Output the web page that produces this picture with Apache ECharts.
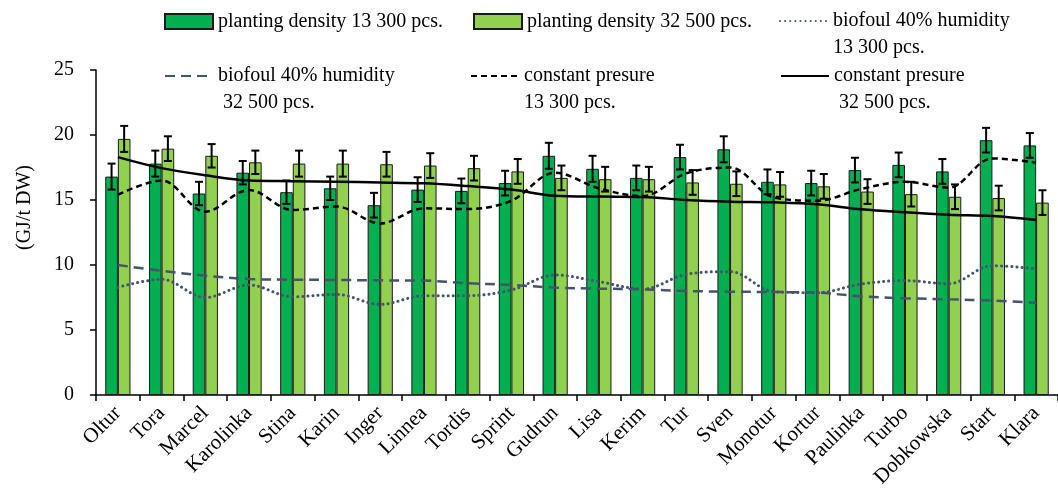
<!DOCTYPE html>
<html>
<head>
<meta charset="utf-8">
<script src="https://cdn.jsdelivr.net/npm/echarts@6/dist/echarts.min.js"></script>
<style>
  html, body { margin: 0; padding: 0; background: #fff; }
  #chart { width: 1058px; height: 494px; }
</style>
</head>
<body>
<div id="chart"></div>
<script>
// cultivars on x axis
const categories = ['Oltur', 'Tora', 'Marcel', 'Karolinka', 'Stina', 'Karin', 'Inger', 'Linnea', 'Tordis', 'Sprint',
  'Gudrun', 'Lisa', 'Kerim', 'Tur', 'Sven', 'Monotur', 'Kortur', 'Paulinka', 'Turbo', 'Dobkowska', 'Start', 'Klara']

// bars (GJ/t DW) and their error
const density13300 = [16.8, 17.8, 15.5, 17.1, 15.6, 15.9, 14.6, 15.8, 15.7, 16.3, 18.4, 17.4, 16.7, 18.3, 18.9, 16.4, 16.3, 17.3, 17.7, 17.2, 19.6, 19.2]
const density32500 = [19.7, 18.95, 18.4, 17.9, 17.8, 17.8, 17.75, 17.65, 17.45, 17.2, 16.7, 16.6, 16.6, 16.35, 16.25, 16.2, 16.05, 15.65, 15.45, 15.25, 15.15, 14.8]
const err13300 = [1.0, 1.0, 0.9, 0.9, 0.9, 0.9, 0.95, 0.95, 0.95, 0.95, 1.0, 1.0, 0.95, 0.95, 1.0, 0.95, 0.95, 0.95, 0.95, 0.95, 0.95, 0.95]
const err32500 = [1.0, 0.95, 0.9, 0.9, 1.0, 1.0, 0.95, 0.95, 0.95, 0.95, 0.95, 0.95, 0.95, 0.95, 0.95, 0.95, 0.95, 0.95, 0.95, 0.95, 0.95, 0.95]

// lines
const biofoul13300 = [8.28, 8.9, 7.5, 8.46, 7.56, 7.74, 6.97, 7.64, 7.64, 8.08, 9.23, 8.72, 8.15, 9.28, 9.49, 7.95, 7.87, 8.54, 8.8, 8.56, 9.95, 9.7]
const biofoul32500 = [10.0, 9.55, 9.18, 8.92, 8.87, 8.85, 8.82, 8.8, 8.6, 8.46, 8.26, 8.18, 8.13, 8.0, 7.95, 7.92, 7.87, 7.59, 7.44, 7.36, 7.26, 7.1]
const pressure13300 = [15.4, 16.5, 14.1, 15.77, 14.23, 14.5, 13.2, 14.36, 14.3, 14.95, 17.1, 15.9, 15.3, 17.05, 17.5, 15.2, 14.95, 15.85, 16.4, 15.95, 18.2, 17.87]
const pressure32500 = [18.3, 17.45, 16.9, 16.5, 16.45, 16.4, 16.35, 16.28, 16.07, 15.8, 15.33, 15.26, 15.23, 15.0, 14.87, 14.82, 14.67, 14.28, 14.05, 13.87, 13.77, 13.46]

// y ticks
const yMin = 0
const yMax = 25
const yStep = 5

const FONT = 'Liberation Serif'
const BAR_W = 12.6
const LH = 27

const names = [
  'planting density 13 300 pcs.',
  'planting density 32 500 pcs.',
  'biofoul 40% humidity 13 300 pcs.',
  'biofoul 40% humidity 32 500 pcs.',
  'constant presure 13 300 pcs.',
  'constant presure 32 500 pcs.'
]
// legend text; wrapped items get an empty first line so the icon sits on the first real line
const legendText = {
  [names[0]]: 'planting density 13 300 pcs.',
  [names[1]]: 'planting density 32 500 pcs.',
  [names[2]]: '\nbiofoul 40% humidity\n13 300 pcs.',
  [names[3]]: '\nbiofoul 40% humidity\n 32 500 pcs.',
  [names[4]]: '\nconstant presure\n13 300 pcs.',
  [names[5]]: '\nconstant presure\n 32 500 pcs.'
}

function makeLegend(name, left, iconY, isLine) {
  const lines = legendText[name].split('\n').length
  const leg = {
    data: [name],
    left: left,
    top: iconY - LH * lines / 2,
    padding: 0,
    itemWidth: 48,
    itemHeight: 15,
    selectedMode: false,
    formatter: n => legendText[n],
    textStyle: {
      fontFamily: FONT,
      fontSize: 20,
      color: '#000',
      lineHeight: LH
    }
  }
  if (isLine) {
    // hide the marker that line legends draw in the middle
    leg.itemStyle = { color: 'rgba(0,0,0,0)', borderWidth: 0 }
  } else {
    leg.icon = 'rect'
  }
  return leg
}

// error bars drawn with the axis scales, shifted half a bar to each side
function errorSeries(values, errs, side) {
  return {
    type: 'custom',
    z: 5,
    silent: true,
    data: values.map((v, i) => [i, v, errs[i]]),
    renderItem: (params, api) => {
      const i = api.value(0)
      const v = api.value(1)
      const e = api.value(2)
      const top = api.coord([i, v + e])
      const bot = api.coord([i, v - e])
      const x = top[0] + side * BAR_W / 2
      const style = { stroke: '#000', lineWidth: 2 }
      return {
        type: 'group',
        children: [
          { type: 'line', shape: { x1: x, y1: top[1], x2: x, y2: bot[1] }, style },
          { type: 'line', shape: { x1: x - 4, y1: top[1], x2: x + 4, y2: top[1] }, style },
          { type: 'line', shape: { x1: x - 4, y1: bot[1], x2: x + 4, y2: bot[1] }, style }
        ]
      }
    }
  }
}

const chart = echarts.init(document.getElementById('chart'))
const option = {
  animation: false,
  legend: [
    makeLegend(names[0], 164, 21.5, false),
    makeLegend(names[1], 473, 21.5, false),
    makeLegend(names[2], 779, 21, true),
    makeLegend(names[3], 164, 76, true),
    makeLegend(names[4], 470, 76, true),
    makeLegend(names[5], 780, 76, true)
  ],
  grid: {
    left: 96,
    right: -8,
    top: 70,
    bottom: 99,
    containLabel: false
  },
  xAxis: {
    type: 'category',
    data: categories,
    axisLine: { lineStyle: { color: '#000', width: 1.5 } },
    axisTick: { show: true, length: 6, lineStyle: { color: '#000', width: 1.5 } },
    axisLabel: {
      interval: 0,
      rotate: 45,
      margin: 15,
      fontFamily: FONT,
      fontSize: 21,
      color: '#000'
    }
  },
  yAxis: {
    type: 'value',
    min: yMin,
    max: yMax,
    interval: yStep,
    name: '(GJ/t DW)',
    nameLocation: 'middle',
    nameGap: 61,
    nameTextStyle: {
      fontFamily: FONT,
      fontSize: 20,
      color: '#000',
      padding: [0, 0, 0, 50]
    },
    axisLine: { show: true, lineStyle: { color: '#000', width: 1.5 } },
    axisTick: { show: true, length: 6, lineStyle: { color: '#000', width: 1.5 } },
    axisLabel: {
      margin: 22,
      fontFamily: FONT,
      fontSize: 20,
      color: '#000'
    },
    splitLine: { show: false }
  },
  series: [
    {
      name: names[0],
      type: 'bar',
      barWidth: BAR_W,
      barGap: 0,
      z: 2,
      itemStyle: { color: '#00B050', borderColor: '#1a1a1a', borderWidth: 1 },
      data: density13300
    },
    {
      name: names[1],
      type: 'bar',
      barWidth: BAR_W,
      barGap: 0,
      z: 2,
      itemStyle: { color: '#92D050', borderColor: '#1a1a1a', borderWidth: 1 },
      data: density32500
    },
    {
      name: names[2],
      type: 'line',
      smooth: 0.35,
      symbol: 'none',
      z: 3,
      lineStyle: { color: '#44546A', width: 3, type: [0.1, 5], cap: 'round' },
      itemStyle: { color: '#44546A' },
      data: biofoul13300
    },
    {
      name: names[3],
      type: 'line',
      smooth: 0.35,
      symbol: 'none',
      z: 3,
      lineStyle: { color: '#44546A', width: 2.5, type: [10, 6] },
      itemStyle: { color: '#44546A' },
      data: biofoul32500
    },
    {
      name: names[4],
      type: 'line',
      smooth: 0.35,
      symbol: 'none',
      z: 3,
      lineStyle: { color: '#000', width: 2.5, type: [6, 4] },
      itemStyle: { color: '#000' },
      data: pressure13300
    },
    {
      name: names[5],
      type: 'line',
      smooth: 0.35,
      symbol: 'none',
      z: 3,
      lineStyle: { color: '#000', width: 2.5, type: 'solid' },
      itemStyle: { color: '#000' },
      data: pressure32500
    },
    errorSeries(density13300, err13300, -1),
    errorSeries(density32500, err32500, 1)
  ]
}
chart.setOption(option)
window.addEventListener('resize', () => {
  chart.resize()
})
</script>
</body>
</html>
